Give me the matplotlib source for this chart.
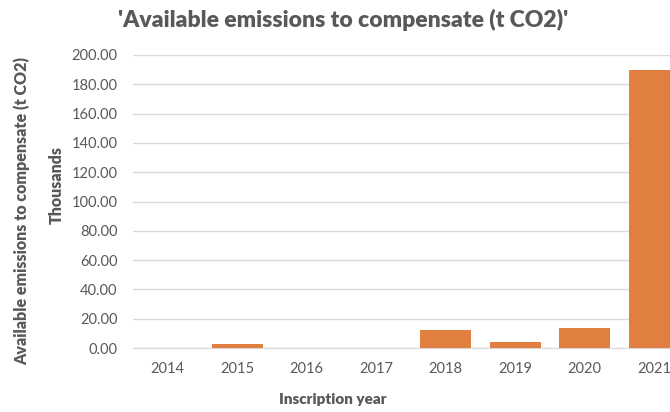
import matplotlib
matplotlib.use("Agg")
import matplotlib.pyplot as plt

# Available emissions per inscription year, in thousands of t CO2
YEARS = ["2014", "2015", "2016", "2017", "2018", "2019", "2020", "2021"]
EMISSIONS_K = [0.0, 2.4, 0.0, 0.0, 12.2, 4.3, 13.9, 189.5]
Y_TICKS = [0, 20, 40, 60, 80, 100, 120, 140, 160, 180, 200]

TEXT_COLOR = "#595959"
BAR_COLOR = "#E07F40"
GRID_COLOR = "#D9D9D9"

plt.rcParams["font.family"] = ["Lato", "DejaVu Sans"]

fig = plt.figure(figsize=(6.7, 4.12), dpi=100)
W, H = 670, 412
# plot area runs past the right edge of the figure (last bar is clipped)
left, right, top, bottom = 133, 689, 55, 348
ax = fig.add_axes([left / W, 1 - bottom / H, (right - left) / W, (bottom - top) / H])

x = range(len(YEARS))
ax.bar(x, EMISSIONS_K, width=0.74, color=BAR_COLOR, zorder=3)

ax.set_xlim(-0.5, len(YEARS) - 0.5)
ax.set_ylim(0, 200)
ax.set_yticks(Y_TICKS)
ax.set_yticklabels([f"{v:.2f}" for v in Y_TICKS])
ax.set_xticks(list(x))
ax.set_xticklabels(YEARS)

ax.grid(axis="y", color=GRID_COLOR, linewidth=1.0, zorder=0)
for side in ["left", "right", "top"]:
    ax.spines[side].set_visible(False)
ax.spines["bottom"].set_color(GRID_COLOR)
ax.tick_params(axis="both", length=0, labelsize=10.5, colors=TEXT_COLOR)
ax.tick_params(axis="y", pad=11)
ax.tick_params(axis="x", pad=10)

fig.text(343 / W, 1 - 20 / H, "'Available emissions to compensate (t CO2)'",
         ha="center", va="center", fontsize=16.5, fontweight="heavy", color=TEXT_COLOR)
fig.text(333 / W, 1 - 400 / H, "Inscription year",
         ha="center", va="center", fontsize=11, fontweight="heavy", color=TEXT_COLOR)
fig.text(22 / W, 1 - 211 / H, "Available emissions to compensate (t CO2)",
         ha="center", va="center", rotation=90, fontsize=11.5, fontweight="heavy",
         color=TEXT_COLOR)
fig.text(57 / W, 1 - 185 / H, "Thousands",
         ha="center", va="center", rotation=90, fontsize=11.5, fontweight="heavy",
         color=TEXT_COLOR)

fig.savefig("out.png", dpi=100)
